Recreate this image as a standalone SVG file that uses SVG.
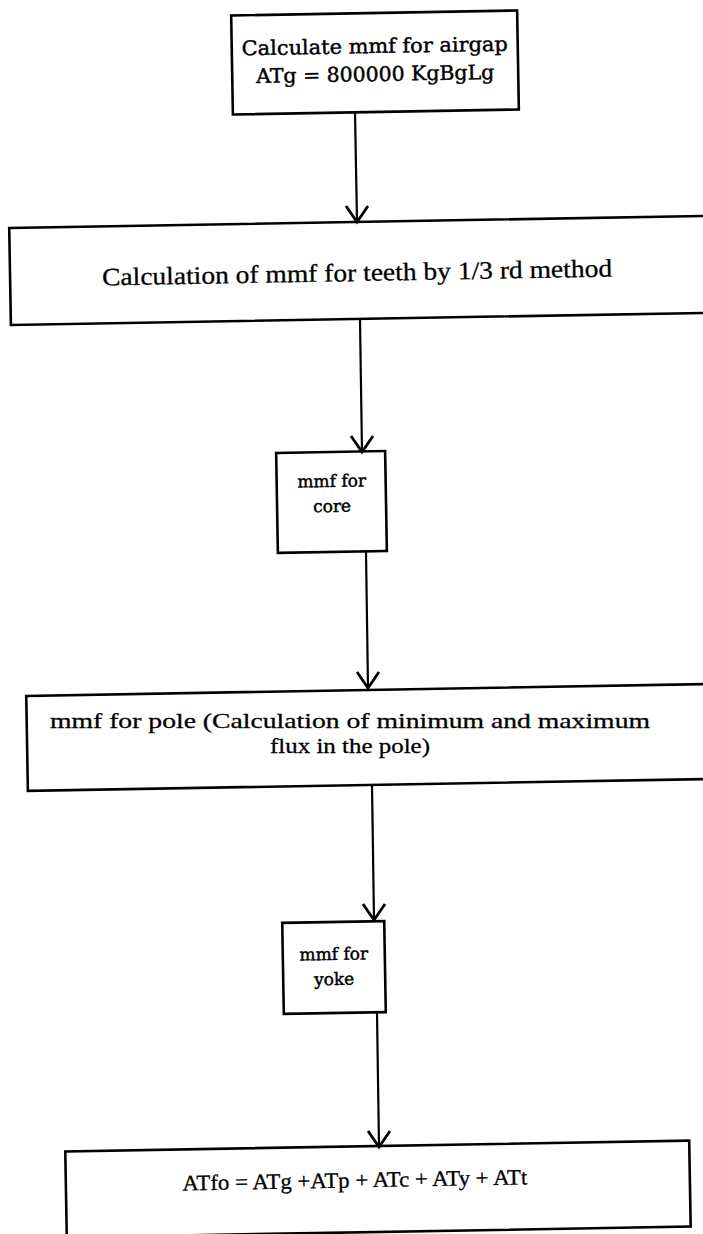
<svg xmlns="http://www.w3.org/2000/svg" width="703" height="1234" viewBox="0 0 703 1234">
  <style>
    .box { fill: #ffffff; stroke: #000000; stroke-width: 2.6; }
    .wide { font-family: "DejaVu Serif", "Liberation Serif", serif; fill: #000000; stroke: #000000; stroke-width: 0.45; text-anchor: middle; }
    .tms { font-family: "Liberation Serif", "Times New Roman", serif; fill: #000000; stroke: #000000; stroke-width: 0.3; text-anchor: middle; }
    .link { stroke: #000000; stroke-width: 2.2; fill: none; }
    .head { stroke: #000000; stroke-width: 2.8; fill: none; stroke-linejoin: miter; }
  </style>
  <rect width="703" height="1234" fill="#ffffff"/>

  <!-- Step 1: airgap mmf -->
  <g id="node-airgap" transform="rotate(-1 375 62)">
    <rect class="box" x="232" y="13" width="286" height="99"/>
    <text class="wide" x="375" y="53" font-size="20" textLength="266" lengthAdjust="spacingAndGlyphs">Calculate mmf for airgap</text>
    <text class="wide" x="375" y="81" font-size="20" textLength="238" lengthAdjust="spacingAndGlyphs">ATg = 800000 KgBgLg</text>
  </g>

  <!-- Step 2: teeth mmf -->
  <g id="node-teeth" transform="rotate(-1 356 270)">
    <rect class="box" x="10" y="222" width="698" height="97"/>
    <text class="tms" x="357" y="281" font-size="25" textLength="510" lengthAdjust="spacingAndGlyphs">Calculation of mmf for teeth by 1/3 rd method</text>
  </g>

  <!-- Step 3: core mmf -->
  <g id="node-core" transform="rotate(-1 331 502)">
    <rect class="box" x="277" y="452" width="109" height="100"/>
    <text class="wide" x="332" y="487" font-size="17">mmf for</text>
    <text class="wide" x="332" y="512" font-size="17">core</text>
  </g>

  <!-- Step 4: pole mmf (two-line label kept level) -->
  <g id="node-pole">
    <rect class="box" x="27" y="690" width="680" height="95" transform="rotate(-1 365 737)"/>
    <text class="tms" x="350" y="728" font-size="22" textLength="600" lengthAdjust="spacingAndGlyphs">mmf for pole (Calculation of minimum and maximum</text>
    <text class="tms" x="350" y="753" font-size="22" textLength="160" lengthAdjust="spacingAndGlyphs">flux in the pole)</text>
  </g>

  <!-- Step 5: yoke mmf -->
  <g id="node-yoke" transform="rotate(-1 334 967)">
    <rect class="box" x="283" y="922" width="102" height="91"/>
    <text class="wide" x="334" y="960" font-size="17">mmf for</text>
    <text class="wide" x="334" y="985" font-size="17">yoke</text>
  </g>

  <!-- Step 6: total field mmf -->
  <g id="node-total" transform="rotate(-1 378 1190)">
    <rect class="box" x="66" y="1146" width="624" height="86"/>
    <text class="tms" x="355" y="1187" font-size="22" textLength="345" lengthAdjust="spacingAndGlyphs">ATfo = ATg +ATp + ATc + ATy + ATt</text>
  </g>

  <!-- Connectors with open V heads -->
  <g id="connectors">
    <line class="link" x1="355" y1="112" x2="357" y2="222"/>
    <polyline class="head" points="346,206 357,222 368,206"/>

    <line class="link" x1="360" y1="320" x2="362" y2="452"/>
    <polyline class="head" points="351,436 362,452 373,436"/>

    <line class="link" x1="366" y1="552" x2="368" y2="688"/>
    <polyline class="head" points="357,672 368,688 379,672"/>

    <line class="link" x1="372" y1="785" x2="374" y2="920"/>
    <polyline class="head" points="363,904 374,920 385,904"/>

    <line class="link" x1="377" y1="1013" x2="379" y2="1147"/>
    <polyline class="head" points="368,1131 379,1147 390,1131"/>
  </g>
</svg>
